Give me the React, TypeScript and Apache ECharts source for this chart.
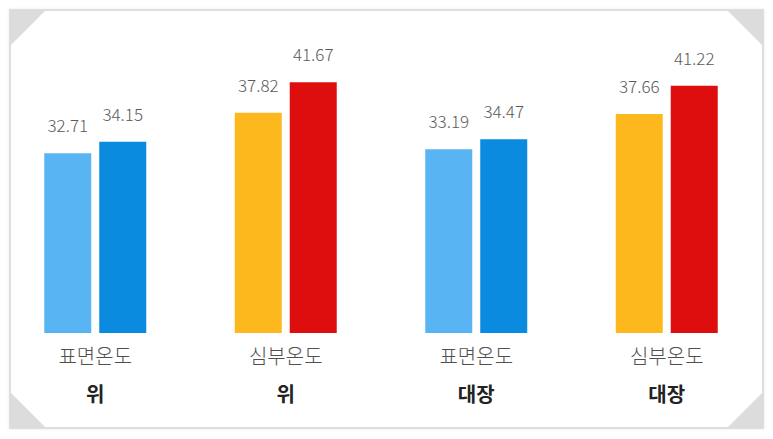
import React, { useEffect, useRef } from "react";
import * as echarts from "echarts";

const categories = ["표면온도", "심부온도", "표면온도", "심부온도"];
const subLabels = ["위", "위", "대장", "대장"];
const firstValues = [32.71, 37.82, 33.19, 37.66];
const secondValues = [34.15, 41.67, 34.47, 41.22];
const firstColors = ["#58B4F2", "#FDB81E", "#58B4F2", "#FDB81E"];
const secondColors = ["#0A8BE0", "#DE0E0E", "#0A8BE0", "#DE0E0E"];

const FONT = "'Noto Sans CJK KR', 'Noto Sans', sans-serif";

export default function App() {
  const ref = useRef<HTMLDivElement>(null);
  useEffect(() => {
    document.body.style.margin = "0";
    const chart = echarts.init(ref.current!, null, { renderer: "svg" });
    const valueLabel = {
      show: true,
      position: "top" as const,
      distance: 20,
      fontFamily: FONT,
      fontSize: 17,
      fontWeight: 300,
      color: "#5a5a5a",
      formatter: (p: any) => p.value.toFixed(2),
    };
    chart.setOption({
      animation: false,
      backgroundColor: "#fff",
      graphic: [
        {
          type: "rect",
          shape: { x: 10, y: 10, width: 753, height: 418 },
          style: { fill: "#fff", stroke: "#dedede", lineWidth: 2, shadowBlur: 3, shadowColor: "rgba(0,0,0,0.08)" },
          z: -10,
        },
        { type: "polygon", shape: { points: [[10, 10], [46, 10], [10, 46]] }, style: { fill: "#dcdcdc" }, z: -5 },
        { type: "polygon", shape: { points: [[727, 10], [763, 10], [763, 46]] }, style: { fill: "#dcdcdc" }, z: -5 },
        { type: "polygon", shape: { points: [[10, 392], [10, 428], [46, 428]] }, style: { fill: "#dcdcdc" }, z: -5 },
        { type: "polygon", shape: { points: [[763, 392], [763, 428], [727, 428]] }, style: { fill: "#dcdcdc" }, z: -5 },
      ],
      grid: { left: -1, right: 11, top: 40, bottom: 106, containLabel: false },
      xAxis: {
        type: "category",
        data: categories,
        axisLine: { show: false },
        axisTick: { show: false },
        axisLabel: {
          margin: 3,
          interval: 0,
          formatter: (v: string, i: number) => `{a|${v}}\n{b|${subLabels[i]}}`,
          rich: {
            a: { fontFamily: FONT, fontSize: 20, fontWeight: 300, color: "#505050", lineHeight: 38 },
            b: { fontFamily: FONT, fontSize: 20, fontWeight: "bold", color: "#222", lineHeight: 38 },
          },
        },
      },
      yAxis: { type: "value", min: 10, max: 47, show: false, splitLine: { show: false } },
      series: [
        {
          type: "bar",
          barWidth: 47,
          barGap: "17%",
          data: firstValues.map((v, i) => ({ value: v, itemStyle: { color: firstColors[i] } })),
          label: valueLabel,
        },
        {
          type: "bar",
          barWidth: 47,
          data: secondValues.map((v, i) => ({ value: v, itemStyle: { color: secondColors[i] } })),
          label: valueLabel,
        },
      ],
    });
    return () => chart.dispose();
  }, []);
  return <div ref={ref} style={{ width: 773, height: 439, position: "absolute", left: 0, top: 0 }} />;
}
